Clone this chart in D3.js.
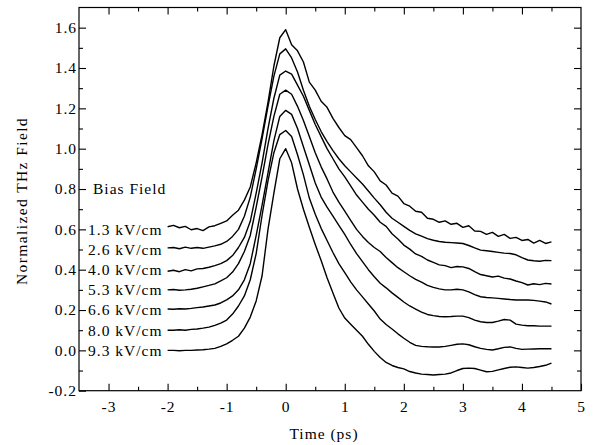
<!DOCTYPE html>
<html>
<head>
<meta charset="utf-8">
<script src="https://cdn.jsdelivr.net/npm/d3@7"></script>
<style>
  body { margin: 0; background: #fff; }
  svg text { font-family: "Liberation Serif", "Times New Roman", serif; fill: #000; }
</style>
</head>
<body>
<svg></svg>
<script>
var width = 597;
var height = 445;
var margin = {top: 7.5, right: 16, bottom: 54.3, left: 79};

// time axis samples (ps)
var times = [-2.0, -1.9, -1.8, -1.7, -1.6, -1.5, -1.4, -1.3, -1.2, -1.1,
  -1.0, -0.9, -0.8, -0.7, -0.6, -0.5, -0.4, -0.3, -0.2, -0.1,
  0.0, 0.1, 0.2, 0.3, 0.4, 0.5, 0.6, 0.7, 0.8, 0.9,
  1.0, 1.1, 1.2, 1.3, 1.4, 1.5, 1.6, 1.7, 1.8, 1.9,
  2.0, 2.1, 2.2, 2.3, 2.4, 2.5, 2.6, 2.7, 2.8, 2.9,
  3.0, 3.1, 3.2, 3.3, 3.4, 3.5, 3.6, 3.7, 3.8, 3.9,
  4.0, 4.1, 4.2, 4.3, 4.4, 4.5];

var biasLabels = ["1.3 kV/cm", "2.6 kV/cm", "4.0 kV/cm", "5.3 kV/cm", "6.6 kV/cm", "8.0 kV/cm", "9.3 kV/cm"];
var offsets = [0.6, 0.5, 0.4, 0.3, 0.2, 0.1, 0.0];

// normalized waveforms (before vertical offset)
var field13 = [0.013, 0.02, 0.008, 0.015, -0.002, 0.004, -0.006, 0.012, 0.018, 0.03,
  0.042, 0.07, 0.095, 0.145, 0.21, 0.33, 0.47, 0.63, 0.81, 0.95,
  0.99, 0.915, 0.885, 0.83, 0.73, 0.69, 0.635, 0.605, 0.55, 0.505,
  0.465, 0.445, 0.405, 0.365, 0.315, 0.285, 0.24, 0.22, 0.18, 0.165,
  0.128, 0.115, 0.09, 0.085, 0.055, 0.05, 0.035, 0.042, 0.025, 0.03,
  0.01, 0.018, -0.008, -0.01, -0.025, -0.015, -0.035, -0.025, -0.045, -0.04,
  -0.055, -0.05, -0.068, -0.055, -0.07, -0.062];
var field26 = [0.008, 0.01, 0.004, 0.012, 0.006, 0.01, 0.006, 0.012, 0.018, 0.026,
  0.04, 0.065, 0.1, 0.165, 0.26, 0.4, 0.55, 0.71, 0.86, 0.97,
  0.995, 0.95, 0.88, 0.79, 0.71, 0.645, 0.585, 0.535, 0.49, 0.45,
  0.415, 0.385, 0.355, 0.325, 0.29, 0.255, 0.222, 0.185, 0.155, 0.135,
  0.115, 0.095, 0.078, 0.066, 0.054, 0.046, 0.04, 0.036, 0.034, 0.032,
  0.03, 0.02, 0.008, -0.003, -0.006, -0.01, -0.014, -0.018, -0.02, -0.026,
  -0.04, -0.052, -0.056, -0.058, -0.054, -0.055];
var field40 = [-0.008, -0.003, -0.01, 0.0, -0.006, 0.004, 0.006, 0.012, 0.02, 0.03,
  0.045, 0.07, 0.11, 0.16, 0.24, 0.38, 0.53, 0.7, 0.85, 0.965,
  0.985, 0.97, 0.915, 0.86, 0.79, 0.72, 0.66, 0.6, 0.55, 0.5,
  0.46, 0.415, 0.37, 0.335, 0.3, 0.27, 0.235, 0.215, 0.178, 0.152,
  0.122, 0.102, 0.078, 0.066, 0.048, 0.036, 0.024, 0.02, 0.01, 0.016,
  0.014, 0.006, -0.01, -0.024, -0.03, -0.036, -0.032, -0.042, -0.046, -0.056,
  -0.064, -0.076, -0.07, -0.074, -0.068, -0.071];
var field53 = [0.0, 0.002, -0.002, 0.0, 0.003, 0.008, 0.015, 0.022, 0.03, 0.044,
  0.06, 0.088, 0.13, 0.19, 0.27, 0.41, 0.56, 0.72, 0.86, 0.97,
  0.99, 0.97, 0.91, 0.84, 0.76, 0.68, 0.61, 0.55, 0.485, 0.435,
  0.39, 0.345, 0.3, 0.265, 0.235, 0.21, 0.19, 0.16, 0.135, 0.11,
  0.09, 0.07, 0.052, 0.038, 0.022, 0.012, 0.005, 0.0, 0.0, 0.003,
  0.0, -0.01, -0.024, -0.034, -0.038, -0.04, -0.042, -0.045, -0.048, -0.05,
  -0.05, -0.05, -0.052, -0.056, -0.06, -0.07];
var field66 = [0.005, 0.004, 0.006, 0.005, 0.008, 0.012, 0.015, 0.02, 0.025, 0.035,
  0.05, 0.07, 0.1, 0.15, 0.23, 0.37, 0.52, 0.68, 0.84, 0.96,
  0.99, 0.97, 0.9, 0.81, 0.72, 0.63, 0.56, 0.51, 0.465, 0.42,
  0.375, 0.325, 0.28, 0.24, 0.2, 0.165, 0.133, 0.11, 0.085, 0.063,
  0.04, 0.02, 0.005, -0.01, -0.022, -0.028, -0.032, -0.033, -0.032, -0.03,
  -0.03, -0.038, -0.05, -0.058, -0.062, -0.062, -0.055, -0.047, -0.05, -0.07,
  -0.075, -0.078, -0.078, -0.08, -0.08, -0.08];
var field80 = [0.0, 0.0, 0.002, 0.0, 0.004, 0.006, 0.01, 0.015, 0.024, 0.035,
  0.05, 0.08, 0.12, 0.17, 0.25, 0.38, 0.57, 0.74, 0.88, 0.97,
  0.99, 0.96, 0.87, 0.77, 0.655, 0.575, 0.505, 0.445, 0.385, 0.33,
  0.285, 0.24, 0.2, 0.165, 0.13, 0.095, 0.055, 0.028, 0.006, -0.018,
  -0.04, -0.06, -0.075, -0.08, -0.082, -0.083, -0.083, -0.08, -0.075, -0.07,
  -0.068, -0.072, -0.082, -0.09, -0.095, -0.098, -0.092, -0.085, -0.083, -0.09,
  -0.095, -0.094, -0.093, -0.092, -0.092, -0.092];
var field93 = [0.0, 0.0, -0.002, 0.0, 0.0, 0.002, 0.003, 0.006, 0.01, 0.02,
  0.032, 0.05, 0.07, 0.11, 0.165, 0.245, 0.37, 0.6, 0.78, 0.95,
  1.0, 0.93, 0.8, 0.7, 0.61, 0.525, 0.445, 0.36, 0.285, 0.21,
  0.16, 0.13, 0.1, 0.07, 0.03, -0.005, -0.035, -0.06, -0.075, -0.085,
  -0.092, -0.105, -0.112, -0.118, -0.12, -0.122, -0.12, -0.118, -0.112, -0.1,
  -0.09, -0.088, -0.09, -0.098, -0.106, -0.104, -0.097, -0.09, -0.084, -0.082,
  -0.085, -0.088, -0.085, -0.08, -0.074, -0.063];

var fields = [field13, field26, field40, field53, field66, field80, field93];

var xTicks = [-3, -2, -1, 0, 1, 2, 3, 4, 5];
var xMinorTicks = [-2.5, -1.5, -0.5, 0.5, 1.5, 2.5, 3.5, 4.5];
var yTicks = [-0.2, 0.0, 0.2, 0.4, 0.6, 0.8, 1.0, 1.2, 1.4, 1.6];
var yMinorTicks = [-0.1, 0.1, 0.3, 0.5, 0.7, 0.9, 1.1, 1.3, 1.5];

var svg = d3.select("svg");
svg.attr('width', width).attr('height', height);

var xScale = d3.scaleLinear()
               .domain([-3.5, 5])
               .range([margin.left, width - margin.right]);

var yScale = d3.scaleLinear()
               .domain([-0.2, 1.7])
               .range([height - margin.bottom, margin.top]);

// hyphen instead of unicode minus, like the original
function fmtX(d) { return String(d); }
function fmtY(d) { return d.toFixed(1); }

var fontSize = 15.5;
var spacing = 1;

// bottom axis
svg.append('g')
  .attr('transform', 'translate(0,' + (height - margin.bottom) + ')')
  .call(d3.axisBottom(xScale).tickValues(xTicks).tickFormat(fmtX)
    .tickSizeInner(-7).tickSizeOuter(0).tickPadding(10));
svg.append('g')
  .attr('transform', 'translate(0,' + (height - margin.bottom) + ')')
  .call(d3.axisBottom(xScale).tickValues(xMinorTicks).tickFormat('')
    .tickSizeInner(-4).tickSizeOuter(0));

// top axis (mirror)
svg.append('g')
  .attr('transform', 'translate(0,' + margin.top + ')')
  .call(d3.axisTop(xScale).tickValues(xTicks.filter(function(d) { return d < 5; })).tickFormat('')
    .tickSizeInner(-7).tickSizeOuter(0));
svg.append('g')
  .attr('transform', 'translate(0,' + margin.top + ')')
  .call(d3.axisTop(xScale).tickValues(xMinorTicks).tickFormat('')
    .tickSizeInner(-4).tickSizeOuter(0));

// left axis
svg.append('g')
  .attr('transform', 'translate(' + margin.left + ',0)')
  .call(d3.axisLeft(yScale).tickValues(yTicks).tickFormat(fmtY)
    .tickSizeInner(-7).tickSizeOuter(0).tickPadding(2));
svg.append('g')
  .attr('transform', 'translate(' + margin.left + ',0)')
  .call(d3.axisLeft(yScale).tickValues(yMinorTicks).tickFormat('')
    .tickSizeInner(-4).tickSizeOuter(0));

// right axis (mirror)
svg.append('g')
  .attr('transform', 'translate(' + (width - margin.right) + ',0)')
  .call(d3.axisRight(yScale).tickValues(yTicks.filter(function(d) { return d > -0.2; })).tickFormat('')
    .tickSizeInner(-7).tickSizeOuter(0));
svg.append('g')
  .attr('transform', 'translate(' + (width - margin.right) + ',0)')
  .call(d3.axisRight(yScale).tickValues(yMinorTicks).tickFormat('')
    .tickSizeInner(-4).tickSizeOuter(0));

svg.selectAll('.domain').remove();
svg.selectAll('.tick line').attr('stroke', '#000').attr('stroke-width', 1.1);
svg.selectAll('.tick text')
  .style('font-size', fontSize + 'px')
  .style('font-family', '"Liberation Serif", serif')
  .style('letter-spacing', spacing + 'px')
  .attr('fill', '#000');

// frame
svg.append('rect')
  .attr('x', margin.left)
  .attr('y', margin.top)
  .attr('width', width - margin.left - margin.right)
  .attr('height', height - margin.top - margin.bottom)
  .attr('fill', 'none')
  .attr('stroke', '#000')
  .attr('stroke-width', 1.2);

// waveforms
var line = d3.line()
  .x(function(d) { return xScale(d[0]); })
  .y(function(d) { return yScale(d[1]); });

svg.selectAll('path.trace')
  .data(fields)
  .enter()
  .append('path')
  .attr('class', 'trace')
  .attr('fill', 'none')
  .attr('stroke', '#000')
  .attr('stroke-width', 1.4)
  .attr('stroke-linejoin', 'round')
  .attr('d', function(vals, i) {
    return line(vals.map(function(v, j) { return [times[j], v + offsets[i]]; }));
  });

// labels for each trace
svg.selectAll('text.bias')
  .data(biasLabels)
  .enter()
  .append('text')
  .attr('class', 'bias')
  .attr('x', margin.left + 9)
  .attr('y', function(d, i) { return yScale(offsets[i]); })
  .attr('dy', '0.35em')
  .style('font-size', fontSize + 'px')
  .style('letter-spacing', spacing + 'px')
  .text(function(d) { return d; });

svg.append('text')
  .attr('x', margin.left + 14)
  .attr('y', yScale(0.8))
  .attr('dy', '0.35em')
  .style('font-size', fontSize + 'px')
  .style('letter-spacing', spacing + 'px')
  .text('Bias Field');

// axis titles
svg.append('text')
  .attr('x', (margin.left + width - margin.right) / 2 - 6)
  .attr('y', height - 6)
  .attr('text-anchor', 'middle')
  .style('font-size', fontSize + 'px')
  .style('letter-spacing', spacing + 'px')
  .text('Time (ps)');

svg.append('text')
  .attr('transform', 'translate(27,' + 201 + ') rotate(-90)')
  .attr('text-anchor', 'middle')
  .style('font-size', fontSize + 'px')
  .style('letter-spacing', '1.4px')
  .text('Normalized THz Field');
</script>
</body>
</html>
